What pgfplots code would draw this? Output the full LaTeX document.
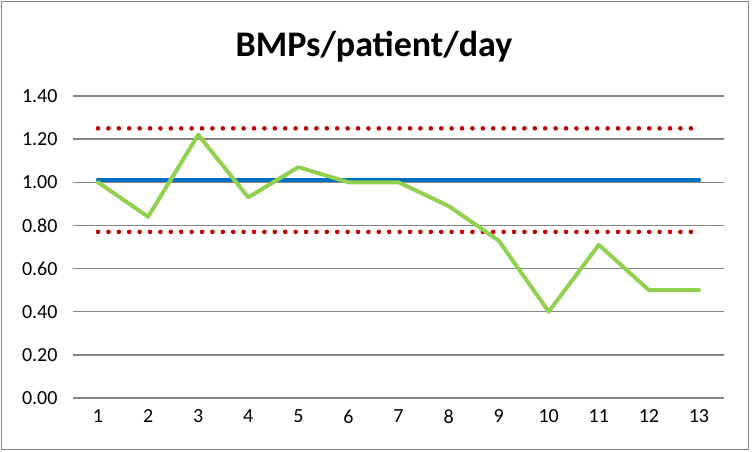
\documentclass[border=0pt]{standalone}
\usepackage{pgfplots}
\pgfplotsset{compat=1.18}
\usepackage{fontspec}
\setmainfont{Carlito}
\definecolor{gridgray}{RGB}{134,134,134}
\definecolor{exred}{RGB}{192,0,0}
\definecolor{exblue}{RGB}{0,112,192}
\definecolor{exgreen}{RGB}{146,208,80}
\begin{document}
\begin{tikzpicture}[x=1pt,y=1pt]
\useasboundingbox (0,0) rectangle (753,452);
\draw[gridgray, line width=1.2pt] (1.2,2.3) rectangle (748.6,450.5);
\node[font=\fontsize{36}{40}\selectfont\bfseries] at (374,405) {BMPs/patient/day};
\begin{axis}[
  at={(73pt,54pt)}, anchor=south west,
  scale only axis, width=651pt, height=302pt,
  xmin=0.5, xmax=13.5, ymin=0, ymax=1.4,
  xtick={1,2,3,4,5,6,7,8,9,10,11,12,13},
  ytick={0,0.2,0.4,0.6,0.8,1.0,1.2,1.4},
  yticklabel={\pgfmathprintnumber[fixed,fixed zerofill,precision=2]{\tick}},
  /pgf/number format/assume math mode=true,
  ticklabel style={font=\fontsize{20}{24}\selectfont},
  axis line style={draw=none},
  major tick length=0pt,
  ymajorgrids,
  grid style={gridgray, line width=1.3pt},
  yticklabel style={xshift=-12pt},
  xticklabel style={yshift=-8pt},
  clip=false,
]
\addplot[exred, line width=4.6pt, line cap=round, dash pattern=on 0pt off 10.4pt] coordinates {
(1,1.25) (2,1.25) (3,1.25) (4,1.25) (5,1.25) (6,1.25) (7,1.25) (8,1.25) (9,1.25) (10,1.25) (11,1.25) (12,1.25) (13,1.25)};
\addplot[exred, line width=4.6pt, line cap=round, dash pattern=on 0pt off 10.4pt] coordinates {
(1,0.77) (2,0.77) (3,0.77) (4,0.77) (5,0.77) (6,0.77) (7,0.77) (8,0.77) (9,0.77) (10,0.77) (11,0.77) (12,0.77) (13,0.77)};
\addplot[exblue, line width=4.5pt, line cap=round] coordinates {
(1,1.01) (2,1.01) (3,1.01) (4,1.01) (5,1.01) (6,1.01) (7,1.01) (8,1.01) (9,1.01) (10,1.01) (11,1.01) (12,1.01) (13,1.01)};
\addplot[exgreen, line width=4pt, line cap=round, line join=round] coordinates {
(1,1.00) (2,0.84) (3,1.22) (4,0.93) (5,1.07) (6,1.00) (7,1.00) (8,0.89) (9,0.73) (10,0.40) (11,0.71) (12,0.50) (13,0.50)};
\end{axis}
\end{tikzpicture}
\end{document}
